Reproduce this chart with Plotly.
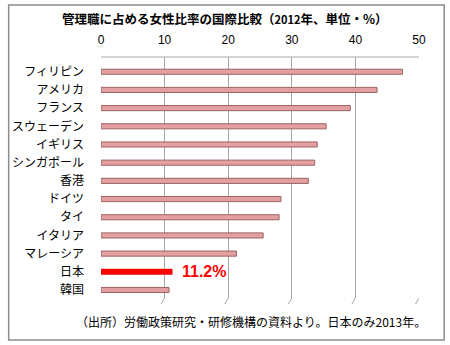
import plotly.graph_objects as go

countries = ["フィリピン", "アメリカ", "フランス", "スウェーデン", "イギリス", "シンガポール",
             "香港", "ドイツ", "タイ", "イタリア", "マレーシア", "日本", "韓国"]
values = [47.4, 43.4, 39.2, 35.4, 34.0, 33.6, 32.6, 28.3, 28.0, 25.5, 21.3, 11.2, 10.7]
tick_vals = [0, 10, 20, 30, 40, 50]
highlight = "日本"
highlight_label = "11.2%"

FONT = "Noto Sans CJK JP"
pink = "#E3A0A0"
pink_edge = "#9E6262"

other_c = [c for c in countries if c != highlight]
other_v = [v for c, v in zip(countries, values) if c != highlight]
hv = values[countries.index(highlight)]

fig = go.Figure()
fig.add_trace(go.Bar(
    y=other_c, x=other_v, orientation="h", width=0.28,
    marker=dict(color=pink, line=dict(color=pink_edge, width=1)),
    showlegend=False, hoverinfo="x+y",
))
fig.add_trace(go.Bar(
    y=[highlight], x=[hv], orientation="h", width=0.3,
    marker=dict(color="#FF0000", line=dict(color="#E00000", width=0.5)),
    showlegend=False, hoverinfo="x+y",
))

fig.update_layout(
    width=450, height=345,
    margin=dict(l=97.5, r=30.5, t=57, b=47),
    paper_bgcolor="white", plot_bgcolor="white",
    font=dict(family=FONT, color="black", size=12),
    barmode="overlay",
    xaxis=dict(
        side="top", range=[0, 50], tickvals=tick_vals,
        showgrid=True, gridcolor="#A6A6A6", gridwidth=1,
        zeroline=False, showline=False,
        ticks="outside", ticklen=7, tickcolor="rgba(0,0,0,0)",
        tickfont=dict(size=12, family="Liberation Sans, " + FONT),
        fixedrange=True,
    ),
    yaxis=dict(
        type="category", categoryorder="array", categoryarray=countries,
        range=[12.44, -0.81],
        showgrid=False, zeroline=False, showline=False,
        ticks="", ticklabelstandoff=16,
        tickfont=dict(size=12, family=FONT),
        fixedrange=True,
    ),
)

shapes = []
# outer border
shapes.append(dict(type="rect", xref="paper", yref="paper",
                   x0=(4 - 97.5) / 322, x1=(445 - 97.5) / 322,
                   y0=(298 - 340) / 241, y1=(298 - 5) / 241,
                   line=dict(color="#8C8C8C", width=1.5), fillcolor="rgba(0,0,0,0)", layer="below"))
# top border of plot
shapes.append(dict(type="line", xref="paper", yref="paper", x0=0, x1=1, y0=1, y1=1,
                   line=dict(color="#A6A6A6", width=1)))
# slanted 3D ticks at the bottom
for t in tick_vals:
    shapes.append(dict(type="line", xref="x", yref="paper",
                       x0=t, x1=t - 0.55, y0=0, y1=-0.025,
                       line=dict(color="#A6A6A6", width=1)))
fig.update_layout(shapes=shapes)

fig.add_annotation(
    text="<b>管理職に占める女性比率の国際比較（<span style='font-size:11px'>2012</span>年、単位・%）</b>",
    xref="paper", yref="paper", x=(223 - 97.5) / 322, y=(298 - 19) / 241,
    showarrow=False, xanchor="center", yanchor="middle",
    font=dict(size=12.5, family=FONT, color="black"),
)

fig.add_annotation(
    text="<b>" + highlight_label + "</b>", x=hv, y=highlight, xref="x", yref="y",
    showarrow=False, xanchor="left", yanchor="middle", xshift=8,
    font=dict(size=16, color="#FF0000", family="Liberation Sans, " + FONT),
)

fig.add_annotation(
    text="（出所）労働政策研究・研修機構の資料より。日本のみ2013年。",
    xref="paper", yref="paper", x=(429 - 97.5) / 322, y=(298 - 321) / 241,
    showarrow=False, xanchor="right", yanchor="middle",
    font=dict(size=12, family=FONT, color="black"),
)

fig.write_html("out.html")
